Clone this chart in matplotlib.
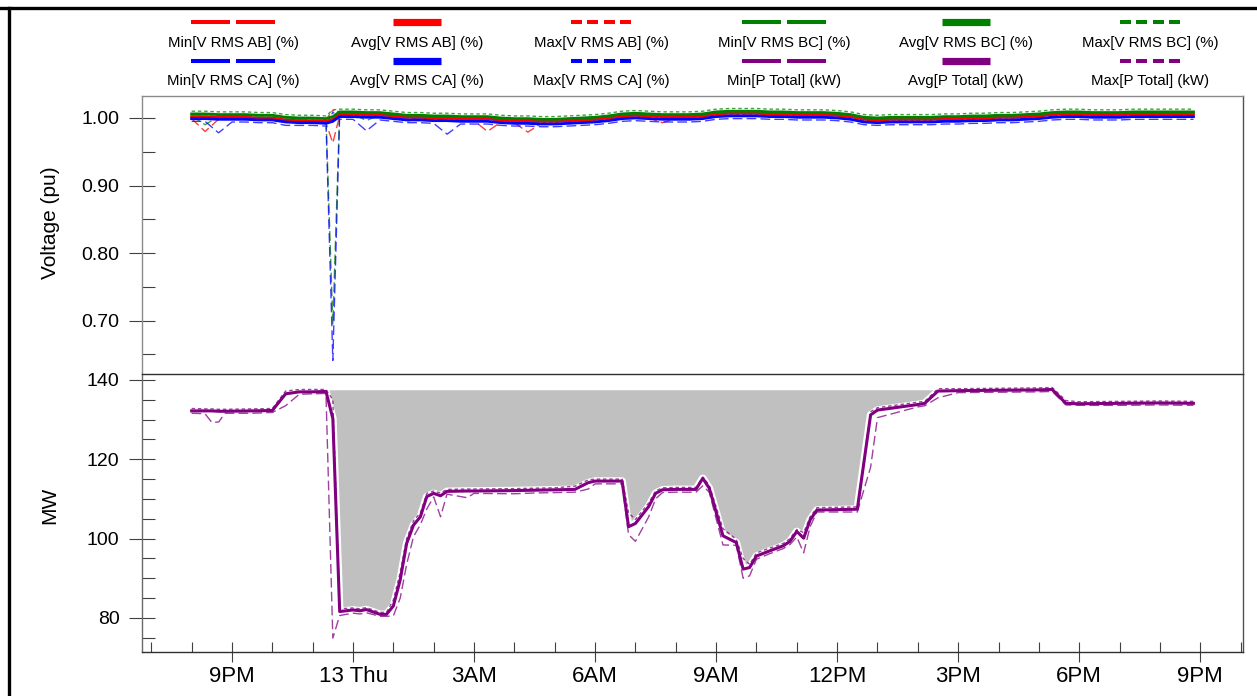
import numpy as np
import matplotlib
matplotlib.use("Agg")
import matplotlib.pyplot as plt
from matplotlib.lines import Line2D
from matplotlib.ticker import FixedLocator, NullFormatter

plt.rcParams['font.family'] = ['Liberation Sans', 'DejaVu Sans']

# ---------------------------------------------------------------- data
# hours counted from midnight of the 12th (24 = 13 Thu 00:00)
volt_hours = np.r_[np.arange(60, 71) / 3, 23.5, np.arange(71, 135) / 3, 44.8333]

avg_ab = [100.2, 100.2, 100.1, 100.1, 100.1, 100.0, 100.0, 99.7, 99.6, 99.6, 99.5,
          99.8,
          100.6, 100.6, 100.5, 100.5, 100.3, 100.1, 100.1, 100.0, 100.0, 99.9, 99.9,
          99.9, 99.7, 99.6, 99.6, 99.5, 99.5, 99.6, 99.7, 99.8, 100.0, 100.3,
          100.4, 100.3, 100.2, 100.2, 100.2, 100.3, 100.6, 100.7, 100.7, 100.7, 100.6,
          100.6, 100.5, 100.5, 100.5, 100.4, 100.2, 99.8, 99.7, 99.8, 99.8, 99.8,
          99.8, 99.9, 99.9, 100.0, 100.0, 100.1, 100.1, 100.2, 100.3, 100.5, 100.6,
          100.6, 100.5, 100.5, 100.5, 100.6, 100.6, 100.6, 100.6, 100.6, 100.6]
min_ab = [99.9, 98.0, 99.8, 99.8, 99.8, 99.7, 99.7, 99.4, 99.3, 99.3, 99.2,
          96.3,
          100.3, 100.3, 100.2, 100.2, 100.0, 99.8, 99.8, 99.7, 99.7, 99.6, 99.6,
          98.0, 99.4, 99.3, 97.9, 99.2, 99.2, 99.3, 99.4, 99.5, 99.7, 100.0,
          100.1, 100.0, 99.3, 99.9, 99.9, 100.0, 100.3, 100.4, 100.4, 100.4, 100.3,
          100.3, 100.2, 100.2, 100.2, 100.1, 99.9, 99.5, 99.4, 99.5, 99.5, 99.5,
          99.5, 99.6, 99.6, 99.7, 99.7, 99.8, 99.8, 99.9, 100.0, 100.2, 100.3,
          100.3, 100.2, 100.2, 100.2, 100.3, 100.3, 100.3, 100.3, 100.3, 100.3]
max_ab = [100.5, 100.5, 100.4, 100.4, 100.4, 100.3, 100.3, 100.0, 99.9, 99.9, 99.8,
          101.1,
          100.9, 100.9, 100.8, 100.8, 100.6, 100.4, 100.4, 100.3, 100.3, 100.2, 100.2,
          100.2, 100.0, 99.9, 99.9, 99.8, 99.8, 99.9, 100.0, 100.1, 100.3, 100.6,
          100.7, 100.6, 100.5, 100.5, 100.5, 100.6, 100.9, 101.0, 101.0, 101.0, 100.9,
          100.9, 100.8, 100.8, 100.8, 100.7, 100.5, 100.1, 100.0, 100.1, 100.1, 100.1,
          100.1, 100.2, 100.2, 100.3, 100.3, 100.4, 100.4, 100.5, 100.6, 100.8, 100.9,
          100.9, 100.8, 100.8, 100.8, 100.9, 100.9, 100.9, 100.9, 100.9, 100.9]

avg_bc = [100.6, 100.6, 100.5, 100.5, 100.5, 100.4, 100.4, 100.1, 100.0, 100.0, 99.9,
          100.2,
          100.9, 100.9, 100.8, 100.8, 100.6, 100.4, 100.4, 100.3, 100.3, 100.2, 100.2,
          100.2, 100.0, 99.9, 99.9, 99.8, 99.8, 99.9, 100.0, 100.1, 100.3, 100.6,
          100.7, 100.6, 100.5, 100.5, 100.5, 100.6, 100.9, 101.0, 101.0, 101.0, 100.9,
          100.9, 100.8, 100.8, 100.8, 100.7, 100.5, 100.1, 100.0, 100.1, 100.1, 100.1,
          100.1, 100.2, 100.2, 100.3, 100.3, 100.4, 100.4, 100.5, 100.6, 100.8, 100.9,
          100.9, 100.8, 100.8, 100.8, 100.9, 100.9, 100.9, 100.9, 100.9, 100.9]
min_bc = [100.3, 99.0, 100.2, 100.2, 100.2, 100.1, 100.1, 99.8, 99.7, 99.7, 99.6,
          69.5,
          100.6, 100.6, 99.6, 100.5, 100.3, 99.5, 100.1, 99.5, 100.0, 99.9, 99.9,
          99.9, 99.7, 99.6, 99.1, 99.5, 99.5, 99.6, 99.7, 99.8, 100.0, 100.3,
          100.4, 100.3, 100.2, 100.2, 100.2, 100.3, 100.6, 100.7, 100.7, 100.7, 100.6,
          100.6, 100.5, 100.5, 100.5, 100.4, 100.2, 99.8, 99.7, 99.8, 99.8, 99.8,
          99.8, 99.9, 99.9, 100.0, 100.0, 100.1, 100.1, 100.2, 100.3, 100.5, 100.6,
          100.6, 100.5, 100.5, 100.5, 100.6, 100.6, 100.6, 100.6, 100.6, 100.6]
max_bc = [101.0, 101.0, 100.9, 100.9, 100.9, 100.8, 100.8, 100.5, 100.4, 100.4, 100.3,
          101.2,
          101.3, 101.3, 101.2, 101.2, 101.0, 100.8, 100.8, 100.7, 100.7, 100.6, 100.6,
          100.6, 100.4, 100.3, 100.3, 100.2, 100.2, 100.3, 100.4, 100.5, 100.7, 101.0,
          101.1, 101.0, 100.9, 100.9, 100.9, 101.0, 101.3, 101.4, 101.4, 101.4, 101.3,
          101.3, 101.2, 101.2, 101.2, 101.1, 100.9, 100.5, 100.4, 100.5, 100.5, 100.5,
          100.5, 100.6, 100.6, 100.7, 100.7, 100.8, 100.8, 100.9, 101.0, 101.2, 101.3,
          101.3, 101.2, 101.2, 101.2, 101.3, 101.3, 101.3, 101.3, 101.3, 101.3]

avg_ca = [99.9, 99.9, 99.8, 99.8, 99.8, 99.7, 99.7, 99.4, 99.3, 99.3, 99.2,
          99.5,
          100.2, 100.2, 100.1, 100.1, 99.9, 99.7, 99.7, 99.6, 99.6, 99.5, 99.5,
          99.5, 99.3, 99.2, 99.2, 99.1, 99.1, 99.2, 99.3, 99.4, 99.6, 99.9,
          100.0, 99.9, 99.8, 99.8, 99.8, 99.9, 100.2, 100.3, 100.3, 100.3, 100.2,
          100.2, 100.1, 100.1, 100.1, 100.0, 99.8, 99.4, 99.3, 99.4, 99.4, 99.4,
          99.4, 99.5, 99.5, 99.6, 99.6, 99.7, 99.7, 99.8, 99.9, 100.1, 100.2,
          100.2, 100.1, 100.1, 100.1, 100.2, 100.2, 100.2, 100.2, 100.2, 100.2]
min_ca = [99.5, 99.5, 97.8, 99.4, 99.4, 99.3, 99.3, 98.9, 98.9, 98.9, 98.8,
          64.1,
          99.8, 99.8, 98.1, 99.7, 99.5, 99.3, 99.3, 99.2, 97.6, 99.1, 99.1,
          99.1, 98.9, 98.8, 98.8, 98.7, 98.7, 98.8, 98.9, 99.0, 99.2, 99.5,
          99.6, 99.5, 99.4, 99.4, 99.4, 99.5, 99.8, 99.9, 99.9, 99.9, 99.8,
          99.8, 99.7, 99.7, 99.7, 99.6, 99.4, 99.0, 98.9, 99.0, 99.0, 99.0,
          99.0, 99.1, 99.1, 99.2, 99.2, 99.3, 99.3, 99.4, 99.5, 99.7, 99.8,
          99.8, 99.7, 99.7, 99.7, 99.8, 99.8, 99.8, 99.8, 99.8, 99.8]
max_ca = [100.2, 100.2, 100.1, 100.1, 100.1, 100.0, 100.0, 99.7, 99.6, 99.6, 99.5,
          100.8,
          100.5, 100.5, 100.4, 100.4, 100.2, 100.0, 100.0, 99.9, 99.9, 99.8, 99.8,
          99.8, 99.6, 99.5, 99.5, 99.4, 99.4, 99.5, 99.6, 99.7, 99.9, 100.2,
          100.3, 100.2, 100.1, 100.1, 100.1, 100.2, 100.5, 100.6, 100.6, 100.6, 100.5,
          100.5, 100.4, 100.4, 100.4, 100.3, 100.1, 99.7, 99.6, 99.7, 99.7, 99.7,
          99.7, 99.8, 99.8, 99.9, 99.9, 100.0, 100.0, 100.1, 100.2, 100.4, 100.5,
          100.5, 100.4, 100.4, 100.4, 100.5, 100.5, 100.5, 100.5, 100.5, 100.5]

power_hours = [20.00, 20.33, 20.50, 20.67, 20.83, 21.50, 22.00, 22.33, 22.67, 23.00,
               23.33, 23.50, 23.67, 24.00, 24.17, 24.33, 24.67, 24.83, 25.00, 25.17,
               25.33, 25.50, 25.67, 25.83, 26.00, 26.17, 26.33, 26.83, 27.00, 28.00,
               28.50, 29.00, 29.50, 29.83, 30.00, 30.67, 30.83, 31.00, 31.33, 31.50,
               31.67, 32.00, 32.50, 32.67, 32.83, 33.17, 33.50, 33.67, 33.83, 34.00,
               34.33, 34.67, 34.83, 35.00, 35.17, 35.33, 35.50, 36.50, 36.83, 37.00,
               38.00, 38.17, 38.50, 39.00, 40.00, 41.00, 41.33, 41.67, 42.00, 43.00,
               44.00, 44.83]
p_avg = [132.2, 132.2, 132.2, 132.1, 132.1, 132.2, 132.3, 136.5, 137.0, 137.0,
         137.1, 130.3, 81.6, 82.0, 81.8, 82.1, 80.9, 80.9, 83.0, 89.6,
         98.8, 103.4, 105.5, 110.6, 111.4, 110.8, 111.9, 112.0, 112.0, 112.1,
         112.2, 112.3, 112.4, 114.1, 114.5, 114.5, 103.0, 103.8, 108.1, 111.4,
         112.3, 112.4, 112.4, 115.2, 112.7, 100.7, 99.0, 92.3, 92.7, 95.6,
         96.9, 98.2, 99.3, 101.8, 100.1, 104.7, 107.2, 107.4, 131.2, 132.4,
         133.8, 134.1, 137.2, 137.3, 137.4, 137.5, 137.6, 134.1, 134.0, 134.1,
         134.2, 134.1]
p_min = [131.6, 131.5, 129.3, 129.4, 131.6, 131.6, 131.8, 133.5, 136.4, 136.5,
         136.6, 74.9, 80.6, 81.2, 81.0, 81.3, 80.4, 80.4, 80.5, 85.0,
         93.5, 100.5, 103.5, 107.5, 110.5, 105.5, 111.2, 110.3, 111.4, 111.3,
         111.5, 111.6, 111.7, 112.5, 113.8, 113.8, 101.0, 99.3, 105.5, 110.0,
         111.6, 111.7, 111.7, 113.3, 111.7, 98.4, 98.3, 90.0, 90.6, 94.8,
         96.2, 97.5, 98.5, 100.4, 96.4, 103.0, 106.7, 106.7, 118.0, 130.5,
         133.2, 133.5, 135.5, 136.8, 136.9, 137.0, 137.1, 133.7, 133.6, 133.6,
         133.7, 133.6]
p_max = [132.8, 132.7, 132.7, 132.6, 132.6, 132.7, 132.8, 137.2, 137.6, 137.6,
         137.6, 135.0, 82.3, 82.5, 82.3, 82.6, 81.4, 81.4, 84.5, 91.5,
         100.0, 104.5, 106.5, 111.4, 112.0, 111.5, 112.4, 112.5, 112.5, 112.6,
         112.7, 112.8, 113.2, 114.8, 115.0, 115.0, 106.5, 104.8, 109.0, 112.0,
         112.8, 112.9, 112.9, 115.5, 113.5, 102.5, 99.8, 95.0, 93.5, 96.4,
         97.6, 98.8, 100.0, 102.3, 101.5, 105.5, 107.8, 108.0, 132.0, 133.0,
         134.4, 134.6, 137.8, 137.8, 137.9, 138.0, 138.1, 134.8, 134.5, 134.6,
         134.7, 134.6]

pre_event_load = 137.4          # level the shaded loss area is measured against
loss_window = (23.33, 38.50)

tick_hours = [21, 24, 27, 30, 33, 36, 39, 42, 45]
tick_labels = ['9PM', '13 Thu', '3AM', '6AM', '9AM', '12PM', '3PM', '6PM', '9PM']

RED, GREEN, BLUE, PURPLE = '#ff0000', '#008000', '#0000ff', '#800080'

# ---------------------------------------------------------------- figure
W, H = 1257, 696
fig = plt.figure(figsize=(W / 100, H / 100), dpi=100)


def fx(px):
    return px / W


def fy(py):
    return 1 - py / H


left, right = 142, 1243
ax_p = fig.add_axes([fx(left), fy(652), (right - left) / W, (652 - 374) / H])
ax_v = fig.add_axes([fx(left), fy(374), (right - left) / W, (374 - 96) / H])

MIN_DASH = (7, 3)
MAX_DASH = (2.5, 2)

# voltage panel (values stored in %, shown in per-unit)
vh = volt_hours
for mn, av, mx, col in [(min_ab, avg_ab, max_ab, RED),
                        (min_bc, avg_bc, max_bc, GREEN),
                        (min_ca, avg_ca, max_ca, BLUE)]:
    ax_v.plot(vh, np.array(mn) / 100, color=col, lw=1.0, dashes=MIN_DASH, alpha=0.75, zorder=2)
    ax_v.plot(vh, np.array(mx) / 100, color=col, lw=1.0, dashes=MAX_DASH, alpha=0.75, zorder=2)
for av, col in [(avg_ab, RED), (avg_bc, GREEN), (avg_ca, BLUE)]:
    ax_v.plot(vh, np.array(av) / 100, color=col, lw=2.0, zorder=3)

# power panel: shaded loss area, white halo, min/max envelope, average
ph = np.array(power_hours)
pa = np.array(p_avg)
mask = (ph >= loss_window[0]) & (ph <= loss_window[1])
ax_p.fill_between(ph, pa, pre_event_load, where=mask, facecolor='#c0c0c0',
                  edgecolor='none', zorder=1)
ax_p.plot(ph, pa, color='white', lw=5.5, zorder=1.5, solid_joinstyle='round')
ax_p.plot(ph, p_min, color=PURPLE, lw=1.0, dashes=MIN_DASH, alpha=0.75, zorder=2)
ax_p.plot(ph, p_max, color=PURPLE, lw=1.0, dashes=MAX_DASH, alpha=0.75, zorder=2)
ax_p.plot(ph, pa, color=PURPLE, lw=2.2, zorder=3)

# axes limits and ticks
xlim = (18.77, 46.06)
for ax in (ax_v, ax_p):
    ax.set_xlim(*xlim)
    ax.set_facecolor('white')

ax_v.set_ylim(0.621, 1.0325)
ax_p.set_ylim(71.4, 141.5)

TICK_C = '#404040'
ax_v.yaxis.set_major_locator(FixedLocator([0.70, 0.80, 0.90, 1.00]))
ax_v.yaxis.set_minor_locator(FixedLocator([0.65, 0.75, 0.85, 0.95]))
ax_v.set_yticklabels(['0.70', '0.80', '0.90', '1.00'])
ax_p.yaxis.set_major_locator(FixedLocator([80, 100, 120, 140]))
ax_p.yaxis.set_minor_locator(FixedLocator([75, 85, 90, 95, 105, 110, 115, 125, 130, 135]))
ax_p.set_yticklabels(['80', '100', '120', '140'])

for ax in (ax_v, ax_p):
    ax.tick_params(axis='y', which='major', direction='inout', length=19.4, width=0.8,
                   color=TICK_C, labelsize=14, pad=6.5, labelcolor='black')
    ax.tick_params(axis='y', which='minor', direction='in', length=9.4, width=0.8,
                   color=TICK_C)

ax_v.tick_params(axis='x', which='both', bottom=False, labelbottom=False)

ax_p.xaxis.set_major_locator(FixedLocator(tick_hours))
ax_p.set_xticklabels(tick_labels)
ax_p.xaxis.set_minor_locator(FixedLocator([h for h in range(19, 47) if h not in tick_hours]))
ax_p.xaxis.set_minor_formatter(NullFormatter())
ax_p.tick_params(axis='x', which='major', direction='inout', length=14.4, width=0.8,
                 color=TICK_C, labelsize=16, pad=3, labelcolor='black')
ax_p.tick_params(axis='x', which='minor', direction='in', length=7.2, width=0.8,
                 color=TICK_C)

# frame colours
for side in ('left', 'top'):
    ax_v.spines[side].set_color('#8a8a8a')
ax_v.spines['right'].set_color('#505050')
ax_v.spines['bottom'].set_color('#303030')
ax_v.spines['bottom'].set_zorder(5)
ax_p.spines['top'].set_visible(False)
ax_p.spines['left'].set_color('#6a6a6a')
ax_p.spines['bottom'].set_color('#303030')
ax_p.spines['right'].set_color('#505050')
for ax in (ax_v, ax_p):
    for s in ax.spines.values():
        s.set_linewidth(1.0)

# axis titles
fig.text(fx(50), fy(223), 'Voltage (pu)', rotation=90, ha='center', va='center', fontsize=15)
fig.text(fx(50), fy(505), 'MW', rotation=90, ha='center', va='center', fontsize=15)

# legend: six columns, two rows, sample above caption
legend_cols = [233, 417, 601, 784, 966, 1150]
legend_rows = [
    [('min', RED, 'Min[V RMS AB] (%)'), ('avg', RED, 'Avg[V RMS AB] (%)'),
     ('max', RED, 'Max[V RMS AB] (%)'), ('min', GREEN, 'Min[V RMS BC] (%)'),
     ('avg', GREEN, 'Avg[V RMS BC] (%)'), ('max', GREEN, 'Max[V RMS BC] (%)')],
    [('min', BLUE, 'Min[V RMS CA] (%)'), ('avg', BLUE, 'Avg[V RMS CA] (%)'),
     ('max', BLUE, 'Max[V RMS CA] (%)'), ('min', PURPLE, 'Min[P Total] (kW)'),
     ('avg', PURPLE, 'Avg[P Total] (kW)'), ('max', PURPLE, 'Max[P Total] (kW)')],
]
sample_y = [22, 61]
caption_y = [43, 81]

segments = {
    'min': ([(-42, -3), (3, 42)], 2.9),
    'avg': ([(-24, 24)], 5.2),
    'max': ([(-30, -19), (-14, -3), (3, 14), (19, 30)], 2.9),
}

for r, row in enumerate(legend_rows):
    for c, (kind, col, label) in enumerate(row):
        cx = legend_cols[c]
        segs, lw = segments[kind]
        for a, b in segs:
            fig.add_artist(Line2D([fx(cx + a), fx(cx + b)], [fy(sample_y[r])] * 2,
                                  transform=fig.transFigure, color=col, lw=lw,
                                  solid_capstyle='butt'))
        fig.text(fx(cx), fy(caption_y[r]), label, ha='center', va='center', fontsize=10.8)

# outer frame
fig.add_artist(Line2D([0, 1], [fy(7.5)] * 2, transform=fig.transFigure, color='black', lw=2.4))
fig.add_artist(Line2D([fx(8.5)] * 2, [fy(7.5), 0], transform=fig.transFigure, color='black', lw=2.4))

fig.savefig('out.png', dpi=100, facecolor='white')
